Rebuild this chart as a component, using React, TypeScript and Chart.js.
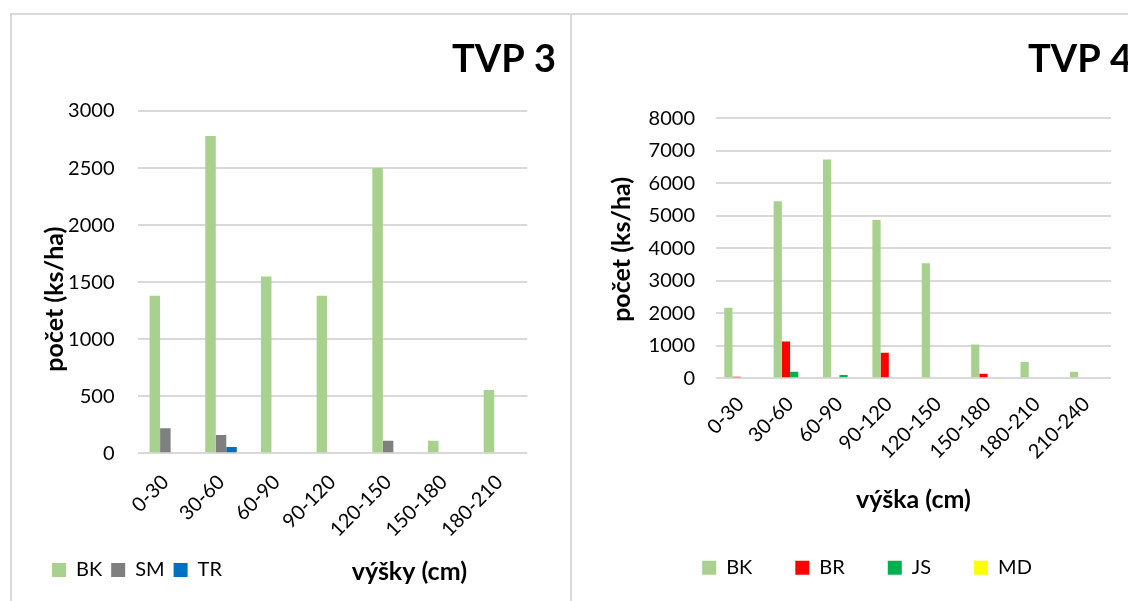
import React, { useEffect, useRef } from "react";
import { Chart, registerables } from "chart.js";

Chart.register(...registerables);

const FONT = "Lato, 'Open Sans', sans-serif";

// ---------- TVP 3 data ----------
const tvp3Title = "TVP 3";
const tvp3Categories = ["0-30", "30-60", "60-90", "90-120", "120-150", "150-180", "180-210"];
const tvp3BK = [1380, 2780, 1550, 1380, 2500, 110, 555];
const tvp3SM = [220, 160, 0, 0, 110, 0, 0];
const tvp3TR = [0, 55, 0, 0, 0, 0, 0];
const tvp3YMax = 3000;
const tvp3YStep = 500;
const tvp3YTitle = "počet (ks/ha)";
const tvp3XTitle = "výšky (cm)";

// ---------- TVP 4 data ----------
const tvp4Title = "TVP 4";
const tvp4Categories = ["0-30", "30-60", "60-90", "90-120", "120-150", "150-180", "180-210", "210-240"];
const tvp4BK = [2170, 5450, 6730, 4870, 3540, 1040, 500, 200];
const tvp4BR = [50, 1130, 0, 790, 0, 140, 0, 0];
const tvp4JS = [0, 200, 100, 0, 0, 0, 0, 0];
const tvp4MD = [0, 0, 0, 0, 0, 40, 0, 0];
const tvp4YMax = 8000;
const tvp4YStep = 1000;
const tvp4YTitle = "počet (ks/ha)";
const tvp4XTitle = "výška (cm)";

const COLORS: Record<string, string> = {
  BK: "#a9d18e",
  SM: "#7f7f7f",
  TR: "#0070c0",
  BR: "#ff0000",
  JS: "#00b050",
  MD: "#ffff00",
};

const AXIS_TITLE_SIZE = 25;

const axisTextPlugin = {
  id: "axisText",
  afterDraw(chart: any, _args: any, opts: any) {
    const { ctx, chartArea } = chart;
    ctx.save();
    ctx.fillStyle = "#000";
    ctx.font = `bold ${opts.size}px ${FONT}`;
    ctx.textAlign = "center";
    ctx.textBaseline = "middle";
    if (opts.yTitle) {
      ctx.save();
      ctx.translate(opts.yTitleX, (chartArea.top + chartArea.bottom) / 2 + opts.yTitleDy);
      ctx.rotate(-Math.PI / 2);
      ctx.fillText(opts.yTitle, 0, 0);
      ctx.restore();
    }
    if (opts.xTitle) {
      const lg = chart.legend;
      const y = lg.top + opts.legendPadding + 10 + opts.xTitleDy;
      ctx.fillText(opts.xTitle, (chartArea.left + chartArea.right) / 2 + opts.xTitleDx, y);
    }
    ctx.restore();
  },
};

function makeConfig(p: any) {
  return {
    type: "bar",
    data: {
      labels: p.labels,
      datasets: p.series.map((s: any) => ({
        label: s.name,
        data: s.data,
        backgroundColor: COLORS[s.name],
        borderWidth: 0,
        categoryPercentage: p.catPct,
        barPercentage: 1,
      })),
    },
    options: {
      responsive: false,
      animation: false,
      devicePixelRatio: 1,
      layout: { padding: p.padding },
      plugins: {
        title: {
          display: true,
          text: p.title,
          align: "end",
          color: "#000",
          font: { family: FONT, size: 38, weight: "bold", lineHeight: 1.2 },
          padding: p.titlePadding,
        },
        legend: {
          display: true,
          position: "bottom",
          align: p.legendAlign,
          labels: {
            boxWidth: 14,
            boxHeight: 14,
            padding: p.legendPadding,
            color: "#000",
            font: { family: FONT, size: 20 },
          },
        },
        tooltip: { enabled: false },
        axisText: {
          size: AXIS_TITLE_SIZE,
          yTitle: p.yTitle,
          yTitleX: p.yTitleX,
          yTitleDy: p.yTitleDy,
          xTitle: p.customXTitle,
          xTitleDx: p.xTitleDx,
          xTitleDy: 2,
          legendPadding: p.legendPadding,
        },
      },
      scales: {
        x: {
          grid: { display: false, drawTicks: false },
          border: { display: false },
          ticks: {
            minRotation: 45,
            maxRotation: 45,
            autoSkip: false,
            padding: p.xTickPad,
            color: "#000",
            font: { family: FONT, size: 20 },
          },
          title: p.builtinXTitle
            ? {
                display: true,
                text: p.builtinXTitle,
                color: "#000",
                font: { family: FONT, size: AXIS_TITLE_SIZE, weight: "bold", lineHeight: 1.2 },
                padding: { top: 0, bottom: 0 },
              }
            : { display: false },
          afterFit: (s: any) => {
            s.height = p.xHeight;
          },
        },
        y: {
          min: 0,
          max: p.yMax,
          grid: { color: "#d9d9d9", lineWidth: 2, drawTicks: false },
          border: { display: false },
          ticks: {
            stepSize: p.yStep,
            padding: p.yTickPad,
            color: "#000",
            font: { family: FONT, size: 20 },
            callback: (v: any) => String(v),
          },
          afterFit: (s: any) => {
            s.width = p.yWidth;
          },
        },
        yR: {
          type: "linear",
          position: "right",
          display: true,
          grid: { display: false, drawTicks: false },
          border: { display: false },
          ticks: { display: false },
          afterFit: (s: any) => {
            s.width = p.rightGap;
          },
        },
      },
    },
    plugins: [axisTextPlugin],
  };
}

const leftConfig = makeConfig({
  labels: tvp3Categories,
  series: [
    { name: "BK", data: tvp3BK },
    { name: "SM", data: tvp3SM },
    { name: "TR", data: tvp3TR },
  ],
  catPct: 0.566,
  title: tvp3Title,
  titlePadding: { top: 22.2, bottom: 28.2 },
  padding: { left: 31, right: 14, top: 0, bottom: 11 },
  legendAlign: "start",
  legendPadding: 9,
  yTitle: tvp3YTitle,
  yTitleX: 43,
  yTitleDy: 17,
  customXTitle: tvp3XTitle,
  xTitleDx: 77,
  builtinXTitle: null,
  xHeight: 97.7,
  xTickPad: 17,
  yMax: tvp3YMax,
  yStep: tvp3YStep,
  yTickPad: 23,
  yWidth: 94.5,
  rightGap: 28.7,
});

const rightConfig = makeConfig({
  labels: tvp4Categories,
  series: [
    { name: "BK", data: tvp4BK },
    { name: "BR", data: tvp4BR },
    { name: "JS", data: tvp4JS },
    { name: "MD", data: tvp4MD },
  ],
  catPct: 0.665,
  title: tvp4Title,
  titlePadding: { top: 22.2, bottom: 35.5 },
  padding: { left: 30, right: 14, top: 0, bottom: 13.3 },
  legendAlign: "center",
  legendPadding: 43,
  yTitle: tvp4YTitle,
  yTitleX: 50,
  yTitleDy: 1,
  customXTitle: null,
  xTitleDx: 0,
  builtinXTitle: tvp4XTitle,
  xHeight: 136.4,
  xTickPad: 14,
  yMax: tvp4YMax,
  yStep: tvp4YStep,
  yTickPad: 21,
  yWidth: 114,
  rightGap: 21,
});

function ChartCanvas({ config, left, top, width, height }: any) {
  const ref = useRef<HTMLCanvasElement | null>(null);
  useEffect(() => {
    const chart = new Chart(ref.current as HTMLCanvasElement, config as any);
    return () => chart.destroy();
  }, [config]);
  return (
    <canvas
      ref={ref}
      width={width}
      height={height}
      style={{ position: "absolute", left, top, width, height, display: "block" }}
    />
  );
}

export default function App() {
  const line = "#d9d9d9";
  return (
    <div
      style={{
        position: "absolute",
        left: 0,
        top: 0,
        width: 1128,
        height: 601,
        overflow: "hidden",
        background: "#fff",
      }}
    >
      <div style={{ position: "absolute", left: 10, top: 13, width: 1118, height: 2, background: line }} />
      <div style={{ position: "absolute", left: 10, top: 13, width: 2, height: 588, background: line }} />
      <div style={{ position: "absolute", left: 570, top: 13, width: 2, height: 588, background: line }} />
      <ChartCanvas config={leftConfig} left={12} top={15} width={558} height={586} />
      <ChartCanvas config={rightConfig} left={572} top={15} width={574} height={586} />
    </div>
  );
}
